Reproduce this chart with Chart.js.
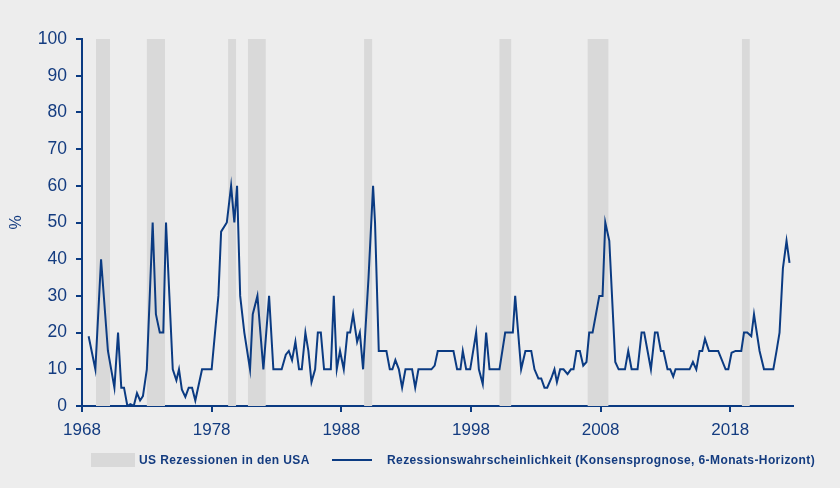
<!DOCTYPE html>
<html><head><meta charset="utf-8">
<script src="https://cdn.jsdelivr.net/npm/chart.js@4"></script>
<style>html,body{margin:0;padding:0;background:#EDEDED;}canvas{display:block;}</style>
</head><body>
<canvas id="c" width="840" height="488"></canvas>
<script>
// ---- data (x positions in chart years, values in %) ----
const years = [
 1968.51,1969.03,1969.47,1970.0,1970.5,1970.78,1971.03,1971.24,1971.5,1971.73,1971.99,1972.24,1972.48,1972.7,
 1973.0,1973.45,1973.7,1974.0,1974.27,1974.48,1974.74,1975.0,1975.28,1975.48,1975.7,1975.97,1976.23,1976.49,1976.74,
 1977.26,1978.0,1978.26,1978.52,1978.73,1979.17,1979.5,1979.75,1979.96,1980.2,1980.52,1980.96,1981.17,1981.53,1981.99,
 1982.43,1982.76,1983.4,1983.72,1983.95,1984.2,1984.46,1984.74,1984.95,1985.23,1985.46,1985.7,1985.98,1986.19,1986.42,
 1986.67,1987.19,1987.42,1987.65,1987.9,1988.19,1988.47,1988.68,1988.91,1989.22,1989.43,1989.68,1990.1,1990.45,1990.6,
 1990.89,1991.48,1991.74,1991.94,1992.17,1992.44,1992.69,1992.95,1993.46,1993.7,1993.95,1994.95,1995.2,1995.44,1996.65,
 1996.93,1997.19,1997.37,1997.63,1997.94,1998.4,1998.61,1998.91,1999.17,1999.43,2000.2,2000.64,2001.23,2001.41,2001.87,
 2002.2,2002.65,2002.9,2003.2,2003.42,2003.67,2003.88,2004.19,2004.44,2004.63,2004.88,2005.14,2005.45,2005.71,2005.91,
 2006.14,2006.4,2006.66,2006.91,2007.12,2007.38,2007.64,2007.9,2008.15,2008.36,2008.67,2009.13,2009.39,2009.88,2010.13,
 2010.39,2010.85,2011.16,2011.36,2011.88,2012.19,2012.39,2012.65,2012.85,2013.16,2013.37,2013.6,2013.78,2014.86,2015.12,
 2015.38,2015.63,2015.84,2016.05,2016.36,2017.07,2017.64,2017.85,2018.1,2018.41,2018.85,2019.06,2019.31,2019.62,2019.83,
 2020.26,2020.6,2021.32,2021.57,2021.8,2022.06,2022.34,2022.57
];
const probability = [
 19,10,40,15,5,20,5,5,0,0.5,0,3.5,1.5,2.7,
 10,50,25,20,20,50,30,10,7,10,4.5,2.5,5,5,1.5,
 10,10,20,30,47.5,50,60,50,60,30,20,10,25,30,10,
 30,10,10,14,15,12.5,17.5,10,10,20,15,6.5,10,20,20,
 10,10,30,10,15,10,20,20,25,17.5,20,10,35,60,50,
 15,15,10,10,12.5,10,5,10,10,5,10,10,11,15,15,
 10,10,15,10,10,20,10,6,20,10,10,20,20,30,10,
 15,15,10,7.5,7.5,5,5,7.5,10,6.5,10,10,8.7,10,10,
 15,15,11,12,20,20,25,30,30,50,45,12,10,10,15,
 10,10,20,20,10,20,20,15,15,10,10,8,10,10,12,
 10,15,15,18.3,15,15,10,10,14.5,15,15,20,20,19,25,
 15,10,10,15,20,37.5,45,39
];
const recessionStarts = [1969.08,1973.0,1979.27,1980.8,1989.76,2000.2,2007.0,2018.9];
const recessionEnds   = [1970.16,1974.4,1979.88,1982.17,1990.38,2001.1,2008.6,2019.5];
const xTickYears = [1968,1978,1988,1998,2008,2018];
const yTickValues = [0,10,20,30,40,50,60,70,80,90,100];
const seriesLabel = 'Rezessionswahrscheinlichkeit (Konsensprognose, 6-Monats-Horizont)';
const recessionLabel = 'US Rezessionen in den USA';
const yTitle = '%';

// ---- styles ----
const NAVY = '#0B3B82';
const TEXT = '#143C80';
const BAND = '#D9D9D9';
const BG = '#EDEDED';
const FONT = "'Liberation Sans', Arial, sans-serif";

const bgPlugin = {
  id: 'bg',
  beforeDraw(chart) {
    const {ctx, width, height} = chart;
    ctx.save(); ctx.fillStyle = BG; ctx.fillRect(0, 0, width, height); ctx.restore();
  }
};

const recessionPlugin = {
  id: 'recessions',
  beforeDatasetsDraw(chart) {
    const {ctx, chartArea, scales} = chart;
    ctx.save();
    ctx.fillStyle = BAND;
    recessionStarts.forEach((s, i) => {
      const x0 = scales.x.getPixelForValue(s);
      const x1 = scales.x.getPixelForValue(recessionEnds[i]);
      ctx.fillRect(x0, chartArea.top, x1 - x0, chartArea.bottom - chartArea.top);
    });
    ctx.restore();
  }
};

const legendPlugin = {
  id: 'customLegend',
  afterDraw(chart) {
    const {ctx} = chart;
    const y = 460;
    ctx.save();
    ctx.font = "bold 12px " + FONT;
    ctx.textBaseline = 'middle';
    ctx.textAlign = 'left';
    try { ctx.letterSpacing = '0.4px'; } catch (e) {}
    ctx.fillStyle = BAND;
    ctx.fillRect(91, y - 7, 44, 14);
    ctx.fillStyle = TEXT;
    ctx.fillText(recessionLabel, 139, y + 1);
    ctx.strokeStyle = NAVY; ctx.lineWidth = 2;
    ctx.beginPath(); ctx.moveTo(332, y); ctx.lineTo(372, y); ctx.stroke();
    ctx.fillText(seriesLabel, 387, y + 1);
    ctx.restore();
  }
};

new Chart(document.getElementById('c'), {
  type: 'line',
  data: {
    datasets: [{
      label: seriesLabel,
      data: years.map((x, i) => ({x, y: probability[i]})),
      borderColor: NAVY,
      borderWidth: 2,
      pointRadius: 0,
      tension: 0,
      fill: false
    }]
  },
  options: {
    responsive: false,
    animation: false,
    devicePixelRatio: 1,
    layout: {padding: {top: 39, right: 47.5, left: 0, bottom: 0}},
    plugins: {legend: {display: false}, tooltip: {enabled: false}},
    scales: {
      x: {
        type: 'linear', min: 1968, max: 2022.8,
        afterBuildTicks: s => { s.ticks = xTickYears.map(v => ({value: v})); },
        afterFit: s => { s.height = 82; },
        border: {color: NAVY, width: 2},
        grid: {drawOnChartArea: false, drawTicks: true, tickLength: 6, color: NAVY, lineWidth: 2},
        ticks: {color: TEXT, font: {family: FONT, size: 17}, padding: 8, maxRotation: 0, autoSkip: false,
                callback: v => String(v)}
      },
      y: {
        type: 'linear', min: 0, max: 100,
        afterBuildTicks: s => { s.ticks = yTickValues.map(v => ({value: v})); },
        afterFit: s => { s.width = 82; },
        border: {color: NAVY, width: 2},
        grid: {drawOnChartArea: false, drawTicks: true, tickLength: 6, color: NAVY, lineWidth: 2},
        ticks: {color: TEXT, font: {family: FONT, size: 17.5}, padding: 9, callback: v => String(v)},
        title: {display: true, text: yTitle, color: TEXT, font: {family: FONT, size: 16}, padding: {top: 7, bottom: 0}}
      }
    }
  },
  plugins: [bgPlugin, recessionPlugin, legendPlugin]
});
</script>
</body></html>
